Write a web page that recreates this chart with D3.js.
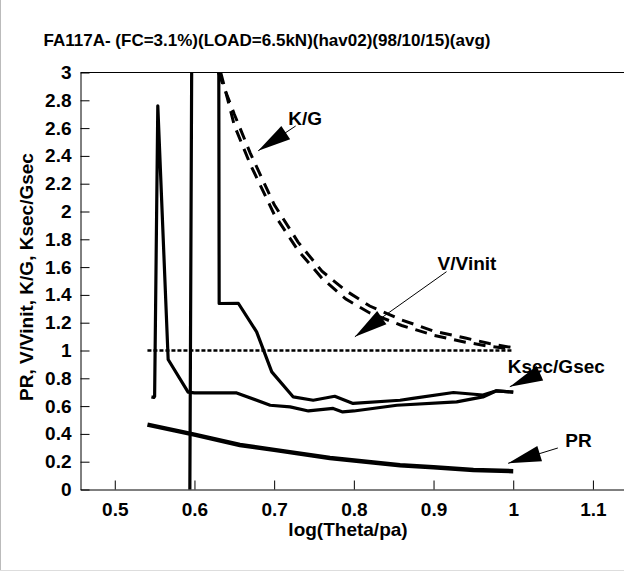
<!DOCTYPE html>
<html>
<head>
<meta charset="utf-8">
<script src="https://cdn.jsdelivr.net/npm/d3@7"></script>
<style>
  body { margin: 0; background: #fff; }
  text { font-family: "Liberation Sans", Arial, sans-serif; font-weight: bold; }
</style>
</head>
<body>
<svg id="chart" width="624" height="571"></svg>
<script>
// tick labels
var xTicks = [0.5, 0.6, 0.7, 0.8, 0.9, 1, 1.1];
var yTicks = [0, 0.2, 0.4, 0.6, 0.8, 1, 1.2, 1.4, 1.6, 1.8, 2, 2.2, 2.4, 2.6, 2.8, 3];

// PR
var prX = [0.541, 0.6, 0.657, 0.7, 0.77, 0.858, 0.9, 0.95, 1.0];
var prY = [0.467, 0.395, 0.32, 0.285, 0.227, 0.175, 0.16, 0.14, 0.132];

// V/Vinit
var vX = [0.541, 1.0];
var vY = [1, 1];

// K/G (two runs)
var kgAX = [0.63, 0.65, 0.67, 0.70, 0.73, 0.76, 0.79, 0.82, 0.86, 0.90, 0.94, 0.97, 1.0];
var kgAY = [3.0, 2.7, 2.42, 2.05, 1.78, 1.57, 1.43, 1.32, 1.22, 1.14, 1.09, 1.05, 1.02];
var kgBX = [0.633, 0.65, 0.67, 0.70, 0.73, 0.76, 0.79, 0.82, 0.86, 0.90, 0.94, 0.97, 1.0];
var kgBY = [3.0, 2.62, 2.34, 1.98, 1.72, 1.52, 1.37, 1.27, 1.18, 1.11, 1.06, 1.03, 1.01];

// Ksec/Gsec (two runs)
var ksAX = [0.546, 0.549, 0.550, 0.554, 0.567, 0.592, 0.6, 0.653, 0.695, 0.72, 0.743, 0.774, 0.786, 0.8, 0.854, 0.929, 0.962, 0.979, 1.0];
var ksAY = [0.666, 0.662, 0.67, 2.76, 0.935, 0.70, 0.695, 0.695, 0.606, 0.594, 0.565, 0.583, 0.558, 0.565, 0.606, 0.63, 0.666, 0.71, 0.70];
var ksBX = [0.594, 0.598, 0.630, 0.631, 0.655, 0.678, 0.697, 0.724, 0.749, 0.776, 0.799, 0.858, 0.874, 0.925, 0.962, 0.979, 1.0];
var ksBY = [-0.3, 5, 5, 1.338, 1.34, 1.134, 0.846, 0.666, 0.642, 0.671, 0.619, 0.642, 0.655, 0.698, 0.68, 0.71, 0.70];

var svg = d3.select("#chart");

// frame of the page
svg.append("line").attr("x1", 0.5).attr("x2", 0.5).attr("y1", 0).attr("y2", 570.5)
  .attr("stroke", "#bbb");
svg.append("line").attr("x1", 0).attr("x2", 624).attr("y1", 570.5).attr("y2", 570.5)
  .attr("stroke", "#ddd");

// scales (plot runs past the right edge)
var x = d3.scaleLinear().domain([0.457, 1.139]).range([80.5, 624]);
var y = d3.scaleLinear().domain([0, 3]).range([489.5, 72.5]);

svg.append("defs").append("clipPath").attr("id", "plotclip")
  .append("rect").attr("x", 80.5).attr("y", 72.5).attr("width", 624 - 80.5).attr("height", 417);

// axes
svg.append("g")
  .attr("transform", "translate(0," + y(0) + ")")
  .call(d3.axisBottom(x).tickValues(xTicks).tickSizeInner(-9).tickSizeOuter(0).tickPadding(13)
    .tickFormat(d3.format("")));
svg.append("g")
  .attr("transform", "translate(" + x.range()[0] + ",0)")
  .call(d3.axisLeft(y).tickValues(yTicks).tickSizeInner(-9).tickSizeOuter(0).tickPadding(9)
    .tickFormat(d3.format("")));
svg.selectAll(".tick text").attr("font-size", 19).attr("fill", "#000")
  .style("font-family", "'Liberation Sans', Arial, sans-serif").style("font-weight", "bold");
svg.selectAll(".domain, .tick line").attr("stroke", "#000");

// top border line
svg.append("line").attr("x1", x.range()[0]).attr("x2", 624)
  .attr("y1", y(3)).attr("y2", y(3)).attr("stroke", "#000");

// curves
var plot = svg.append("g").attr("clip-path", "url(#plotclip)");
function zip(xs, ys) { return xs.map(function (d, i) { return [d, ys[i]]; }); }
var line = d3.line().x(function (d) { return x(d[0]); }).y(function (d) { return y(d[1]); });

plot.append("path").attr("d", line(zip(vX, vY)))
  .attr("fill", "none").attr("stroke", "#000").attr("stroke-width", 2.5).attr("stroke-dasharray", "4,2");
[[kgAX, kgAY], [kgBX, kgBY]].forEach(function (s) {
  plot.append("path").attr("d", line(zip(s[0], s[1])))
    .attr("fill", "none").attr("stroke", "#000").attr("stroke-width", 3).attr("stroke-dasharray", "12,8");
});
[[ksAX, ksAY], [ksBX, ksBY]].forEach(function (s) {
  plot.append("path").attr("d", line(zip(s[0], s[1])))
    .attr("fill", "none").attr("stroke", "#000").attr("stroke-width", 3.2).attr("stroke-linejoin", "round");
});
plot.append("path").attr("d", line(zip(prX, prY)))
  .attr("fill", "none").attr("stroke", "#000").attr("stroke-width", 4.5);

// annotations: arrow tip, tail, label (data units)
var notes = [
  { t: "K/G", tip: [0.680, 2.437], tail: [0.727, 2.615], lab: [0.739, 2.622] },
  { t: "V/Vinit", tip: [0.8013, 1.099], tail: [0.9163, 1.567], lab: [0.942, 1.579] },
  { t: "Ksec/Gsec", tip: [0.9957, 0.7396], tail: [1.0333, 0.836], lab: [1.054, 0.838] },
  { t: "PR", tip: [0.9936, 0.1885], tail: [1.056, 0.2986], lab: [1.082, 0.304] }
];
notes.forEach(function (n) {
  var tx = x(n.tip[0]), ty = y(n.tip[1]), ex = x(n.tail[0]), ey = y(n.tail[1]);
  var dx = ex - tx, dy = ey - ty, len = Math.sqrt(dx * dx + dy * dy);
  var ux = dx / len, uy = dy / len, hl = 33, hw = 8;
  var bx = tx + ux * hl, by = ty + uy * hl;
  svg.append("text").attr("x", x(n.lab[0])).attr("y", y(n.lab[1]))
    .attr("text-anchor", "middle").attr("font-size", 19).text(n.t);
  svg.append("line").attr("x1", tx).attr("y1", ty).attr("x2", ex).attr("y2", ey)
    .attr("stroke", "#000").attr("stroke-width", 1);
  svg.append("path")
    .attr("d", "M" + tx + "," + ty + "L" + (bx - uy * hw) + "," + (by + ux * hw) +
      "L" + (bx + uy * hw) + "," + (by - ux * hw) + "Z")
    .attr("fill", "#000");
});

// titles
svg.append("text").attr("x", 267).attr("y", 46).attr("text-anchor", "middle")
  .attr("font-size", 17).text("FA117A- (FC=3.1%)(LOAD=6.5kN)(hav02)(98/10/15)(avg)");
svg.append("text").attr("x", 348).attr("y", 536).attr("text-anchor", "middle")
  .attr("font-size", 19).text("log(Theta/pa)");
svg.append("text").attr("transform", "translate(33,277) rotate(-90)").attr("text-anchor", "middle")
  .attr("font-size", 19).text("PR, V/Vinit, K/G, Ksec/Gsec");
</script>
</body>
</html>
